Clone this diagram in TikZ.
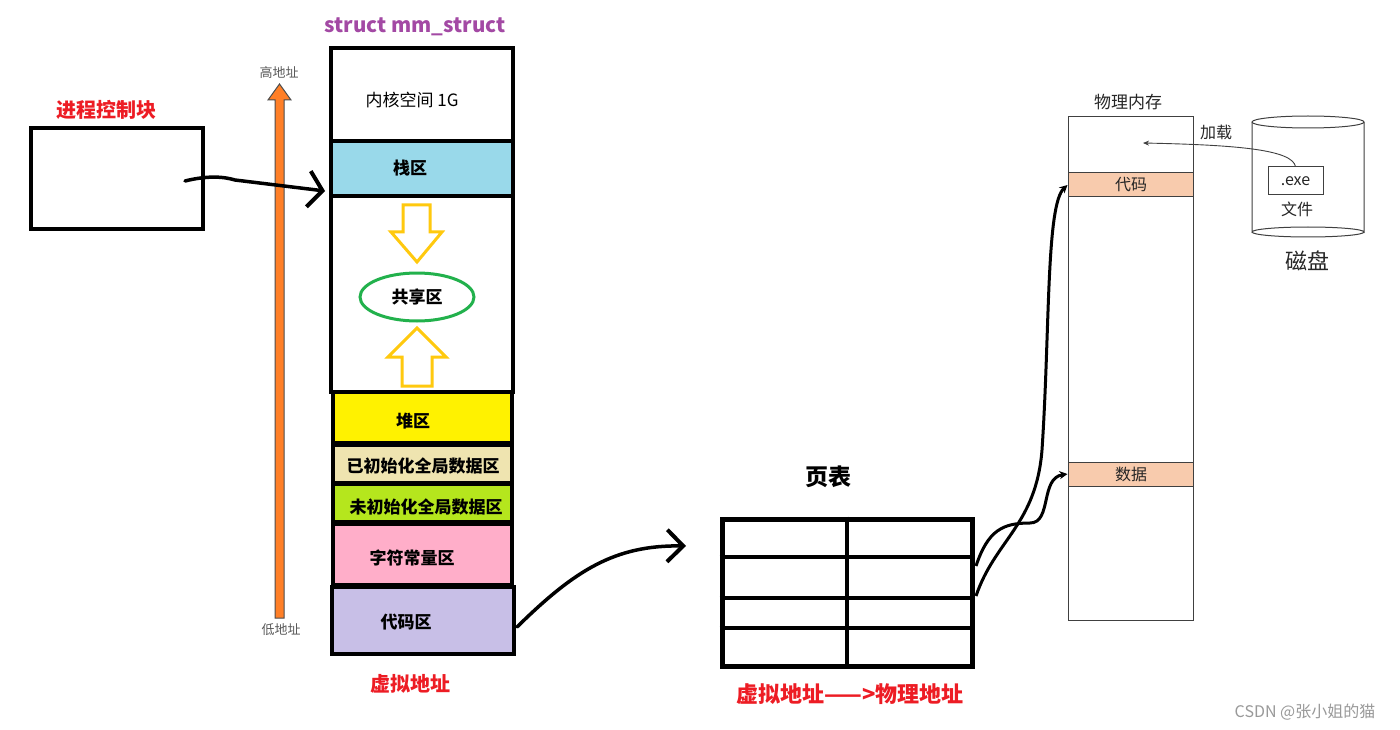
\documentclass[tikz,border=0pt]{standalone}
\usepackage{fontspec}
\setmainfont{Noto Sans CJK SC}
\usetikzlibrary{arrows.meta,calc,shapes.geometric}
\definecolor{stackblue}{HTML}{99D9EA}
\definecolor{heapyellow}{HTML}{FFF200}
\definecolor{initbeige}{HTML}{EFE4B0}
\definecolor{uninitgreen}{HTML}{B5E61D}
\definecolor{constpink}{HTML}{FFAEC9}
\definecolor{codelav}{HTML}{C8BFE7}
\definecolor{bandorange}{HTML}{F8CBAD}
\definecolor{arroworange}{HTML}{FF7F27}
\definecolor{titlepurple}{HTML}{A349A4}
\definecolor{labelred}{HTML}{ED1C24}
\definecolor{ellgreen}{HTML}{22B14C}
\definecolor{arrowyellow}{HTML}{FFC90E}
\definecolor{memgray}{HTML}{404040}
\begin{document}
\begin{tikzpicture}[x=1pt,y=-1pt,
  seg/.style={draw=black, line width=4pt, inner sep=0pt, minimum width=182pt},
  segtxt/.style={font=\bfseries\fontsize{17}{20}\selectfont, inner sep=0pt},
  redlbl/.style={text=labelred, font=\bfseries\fontsize{20}{24}\selectfont, inner sep=0pt},
  smalltxt/.style={text=gray!70!black, font=\fontsize{13}{15}\selectfont, inner sep=0pt},
  memtxt/.style={text=black!85, font=\fontsize{16}{19}\selectfont, inner sep=0pt},
  band/.style={draw=memgray, line width=1pt, fill=bandorange, inner sep=0pt, minimum width=125pt, minimum height=24pt},
  handarrow/.style={draw=black, line width=3.5pt, line cap=round},
  thinarrow/.style={draw=memgray, line width=0.9pt, -{Stealth[length=6pt,width=5pt]}},
  thickarrow/.style={draw=black, line width=3pt, -{Stealth[length=8pt,width=8pt]}}
]
\useasboundingbox (0,0) rectangle (1400,730);
\fill[white] (0,0) rectangle (1400,730);

% title
\node[text=titlepurple, font=\bfseries\fontsize{20.5}{24}\selectfont, inner sep=0pt] (title) at (415,27) {struct mm\_struct};

% process control block
\node[redlbl] (pcblbl) at (106,110) {进程控制块};
\node[draw=black, line width=4pt, minimum width=172pt, minimum height=101pt, inner sep=0pt] (pcb) at (117,178.5) {};

% address direction arrow
\node[smalltxt] (high) at (279,73) {高地址};
\node[smalltxt] (low) at (281,630) {低地址};
\filldraw[draw=gray!60!black, fill=arroworange, line width=1pt, line join=miter]
  (275,618) -- (275,100) -- (268,100) -- (279.5,84) -- (291,100) -- (284,100) -- (284,618) -- cycle;

% memory layout column
\node[seg, fill=white, minimum height=93pt] (kernel) at (422,94.5) {};
\node[font=\fontsize{17}{20}\selectfont, inner sep=0pt] (kerneltxt) at (412,100) {内核空间 1G};
\node[seg, fill=stackblue, minimum height=55pt] (stack) at (422,168.5) {};
\node[segtxt] at (410,168) {栈区};
\node[seg, fill=white, minimum height=196pt] (middle) at (422,294) {};
\node[seg, fill=heapyellow, minimum height=51pt, minimum width=179pt] (heap) at (422.5,417.5) {};
\node[segtxt] at (413,421) {堆区};
\node[seg, fill=initbeige, minimum height=38pt, minimum width=179pt] (init) at (422.5,464) {};
\node[segtxt] at (423,466) {已初始化全局数据区};
\node[seg, fill=uninitgreen, minimum height=38pt, minimum width=179pt] (uninit) at (422.5,503) {};
\node[segtxt] at (426,507) {未初始化全局数据区};
\node[seg, fill=constpink, minimum height=61pt, minimum width=179pt] (const) at (422.5,554.5) {};
\node[segtxt] at (412,558) {字符常量区};
\node[seg, fill=codelav, minimum height=67pt] (code) at (423,620.5) {};
\node[segtxt] at (406,622) {代码区};
\node[redlbl] (vaddr) at (410,684) {虚拟地址};

% shared area
\draw[arrowyellow, line width=3pt, line join=miter]
  (403,205) -- (430,205) -- (430,232) -- (442,232) -- (417,262) -- (391,232) -- (403,232) -- cycle;
\draw[arrowyellow, line width=3pt, line join=miter]
  (417,328) -- (446,357) -- (432,357) -- (432,386) -- (402,386) -- (402,357) -- (388,357) -- cycle;
\node[draw=ellgreen, line width=3pt, ellipse, minimum width=114pt, minimum height=48pt, inner sep=0pt,
  font=\bfseries\fontsize{17}{20}\selectfont] (shared) at (417,297) {共享区};

% PCB -> mm_struct
\coordinate (pcbout) at (185,181);
\coordinate (mmin) at (325,191);
\draw[handarrow, -{Straight Barb[length=14pt,width=36pt,line width=4pt]}]
  (pcbout) .. controls (205,176) and (222,176) .. (235,180) -- (mmin);

% page table
\node[font=\bfseries\fontsize{23}{27}\selectfont, inner sep=0pt] (pttitle) at (828,477) {页表};
\node[draw=black, line width=5pt, minimum width=250pt, minimum height=147pt, inner sep=0pt] (pt) at (847,592.5) {};
\draw[line width=4pt] (pt.north) -- (pt.south);
\draw[line width=4pt] (pt.west |- 0,557) -- (pt.east |- 0,557);
\draw[line width=4pt] (pt.west |- 0,598) -- (pt.east |- 0,598);
\draw[line width=4pt] (pt.west |- 0,628) -- (pt.east |- 0,628);
\node[text=labelred, font=\bfseries\fontsize{22}{26}\selectfont, inner sep=0pt] (mapping) at (850,694) {虚拟地址——>物理地址};

% code -> page table
\coordinate (codeout) at (517,627);
\coordinate (ptin) at (686,546);
\draw[handarrow, -{Straight Barb[length=16pt,width=32pt,line width=4pt]}]
  (codeout) .. controls (575,570) and (615,545) .. (ptin);

% physical memory
\node[memtxt, font=\fontsize{17}{20}\selectfont] (pmtitle) at (1128,102) {物理内存};
\node[draw=memgray, line width=1pt, fill=white, minimum width=125pt, minimum height=503pt, inner sep=0pt] (pm) at (1130.5,368.5) {};
\node[band] (codeband) at (1130.5,185) {};
\node[memtxt] at (1131,185) {代码};
\node[band] (databand) at (1130.5,474) {};
\node[memtxt] at (1131,474) {数据};

% disk
\draw[memgray, line width=1pt, fill=white] (1252,122) -- (1252,232) arc[start angle=180, end angle=360, x radius=56, y radius=5] -- (1364,122);
\draw[memgray, line width=1pt] (1308,122) ellipse[x radius=56, y radius=6];
\draw[memgray, line width=1pt] (1252,232) arc[start angle=180, end angle=0, x radius=56, y radius=5];
\node[draw=memgray, line width=1pt, minimum width=55pt, minimum height=28pt, inner sep=0pt, memtxt] (exe) at (1295.5,181) {.exe};
\node[memtxt] (file) at (1297,209) {文件};
\node[memtxt, font=\fontsize{22}{26}\selectfont] (disk) at (1307,261) {磁盘};
\node[memtxt] (load) at (1216,132) {加载};
\coordinate (loadto) at (1143,143);
\draw[thinarrow] (exe.north) .. controls (1292,150) and (1240,145) .. (loadto);

% page table -> physical memory
\coordinate (p1) at (976,596);
\coordinate (p2) at (976,566);
\draw[thickarrow] (p1) .. controls (995,540) and (1036,525) .. (1042,450)
  .. controls (1050,330) and (1046,205) .. (codeband.west);
\draw[thickarrow] (p2) .. controls (988,530) and (1003,523) .. (1030,523)
  .. controls (1052,523) and (1040,478) .. (databand.west);

% watermark
\node[text=gray!80, font=\fontsize{16}{19}\selectfont, inner sep=0pt] (wm) at (1305,712) {CSDN @张小姐的猫};
\end{tikzpicture}
\end{document}
